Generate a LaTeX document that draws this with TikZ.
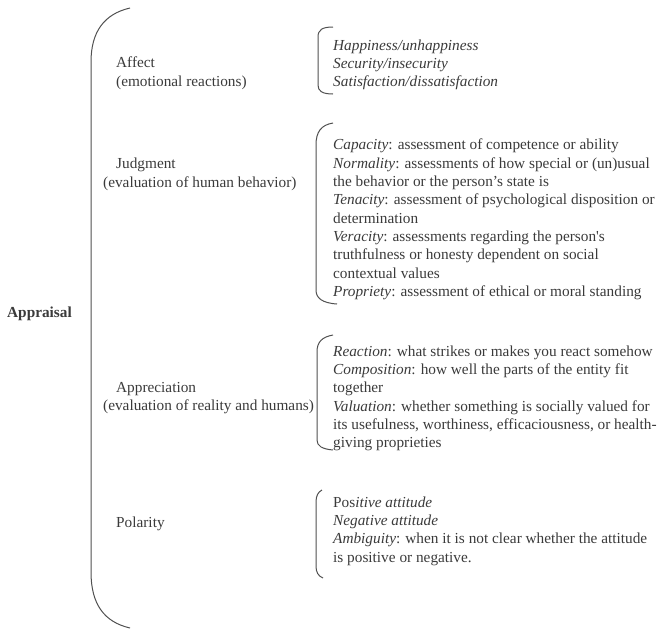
\documentclass[tikz,border=0pt]{standalone}
\usepackage{fontspec}
\setmainfont{Liberation Serif}
\definecolor{ink}{HTML}{3A3A3A}
\definecolor{rule}{HTML}{505050}

\begin{document}
\begin{tikzpicture}[x=1pt,y=-1pt,
  txt/.style={inner sep=0pt,anchor=north west,align=left,text=ink,
    font=\fontsize{15.3}{18.3}\selectfont,execute at begin node=\strut},
  brace/.style={draw=rule,line width=1pt}]
\useasboundingbox (0,0) rectangle (665,629);

\node[txt,anchor=base west,font=\fontsize{15.3}{18.3}\selectfont\bfseries] (appraisal) at (7,317) {Appraisal};

\node[txt] (affect) at (116,57) {Affect\\(emotional reactions)};
\node[txt] (judgment) at (103,158) {\hspace*{13pt}Judgment\\(evaluation of human behavior)};
\node[txt] (appreciation) at (103,382) {\hspace*{13pt}Appreciation\\(evaluation of reality and humans)};
\node[txt,anchor=base west] (polarity) at (116,527) {Polarity};

\node[txt] (affectlist) at (333,39.5) {\textit{Happiness/unhappiness}\\
\textit{Security/insecurity}\\
\textit{Satisfaction/dissatisfaction}};
\node[txt] (judgmentlist) at (333,139) {\textit{Capacity}: assessment of competence or ability\\
\textit{Normality}: assessments of how special or (un)usual\\
the behavior or the person’s state is\\
\textit{Tenacity}: assessment of psychological disposition or\\
determination\\
\textit{Veracity}: assessments regarding the person\textquotesingle s\\
truthfulness or honesty dependent on social\\
contextual values\\
\textit{Propriety}: assessment of ethical or moral standing};
\node[txt] (appreciationlist) at (333,345.5) {\textit{Reaction}: what strikes or makes you react somehow\\
\textit{Composition}: how well the parts of the entity fit\\
together\\
\textit{Valuation}: whether something is socially valued for\\
its usefulness, worthiness, efficaciousness, or health-\\
giving proprieties};
\node[txt] (polaritylist) at (333,496.5) {Pos\textit{itive attitude}\\
\textit{Negative attitude}\\
\textit{Ambiguity}: when it is not clear whether the attitude\\
is positive or negative.};

\draw[brace] (130,8) .. controls (104,14) and (91,32) .. (91,62) -- (91,572) .. controls (91,604) and (104,622) .. (130,628);
\draw[brace] (333,27) .. controls (322,27) and (318,30) .. (318,37) -- (318,85) .. controls (318,91) and (322,94) .. (333,94);
\draw[brace] (333,123) .. controls (321,125) and (316,132) .. (316,145) -- (316,290) .. controls (316,298) and (322,303) .. (337,304);
\draw[brace] (333,335) .. controls (322,337) and (317,342) .. (317,352) -- (317,440) .. controls (317,446) and (322,449) .. (333,450);
\draw[brace] (322,490) .. controls (318,492) and (316,496) .. (316,502) -- (316,566) .. controls (316,572) and (318,576) .. (323,578);
\end{tikzpicture}
\end{document}
